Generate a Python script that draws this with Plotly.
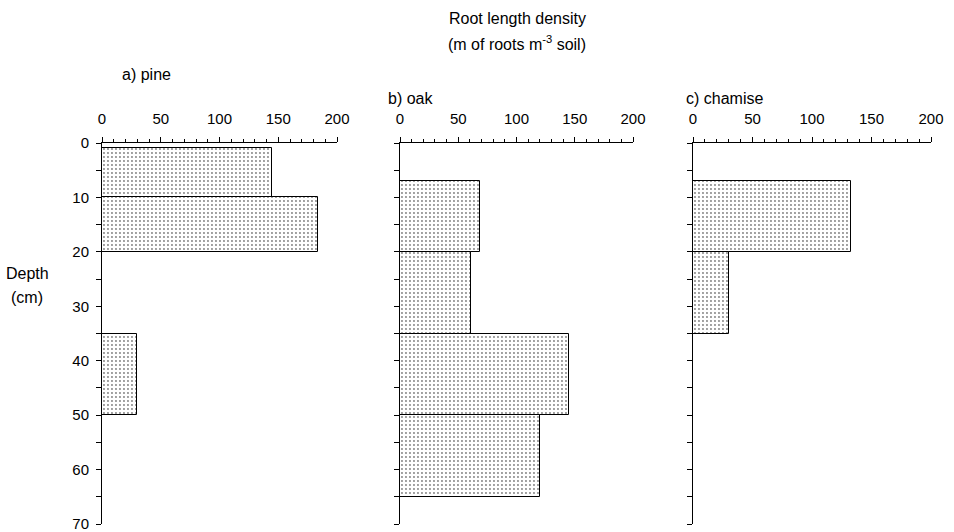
import plotly.graph_objects as go

# Data: depth intervals (cm) and root length density (m of roots m^-3 soil)
pine_top = [1, 10, 35]
pine_bottom = [10, 20, 50]
pine_rld = [145, 184, 30]

oak_top = [7, 20, 35, 50]
oak_bottom = [20, 35, 50, 65]
oak_rld = [69, 61, 145, 120]

chamise_top = [7, 20]
chamise_bottom = [20, 35]
chamise_rld = [133, 30]

panel_titles = ["a) pine", "b) oak", "c) chamise"]

W, H = 954, 532
fig = go.Figure()

panels = [
    (pine_top, pine_bottom, pine_rld),
    (oak_top, oak_bottom, oak_rld),
    (chamise_top, chamise_bottom, chamise_rld),
]
xdomains = [(102, 337), (400, 633), (693, 931)]
ytop, ybot = 143, 524
FONT = "Liberation Sans, Arial"

for i, (tops, bots, vals) in enumerate(panels):
    idx = "" if i == 0 else str(i + 1)
    centers = [(t + b) / 2 for t, b in zip(tops, bots)]
    widths = [b - t for t, b in zip(tops, bots)]
    fig.add_trace(go.Bar(
        x=vals, y=centers, width=widths, base=0, orientation="h",
        marker=dict(color="white",
                    line=dict(color="black", width=1),
                    pattern=dict(shape=".", fgcolor="black", bgcolor="white",
                                 size=4, solidity=0.18)),
        xaxis="x" + idx, yaxis="y" + idx, showlegend=False, hoverinfo="skip",
    ))
    d0, d1 = xdomains[i]
    fig.layout["xaxis" + idx] = dict(
        domain=[d0 / W, d1 / W], range=[0, 200], side="top", anchor="y" + idx,
        automargin=False, ticklabeloverflow="allow",
        showline=True, linecolor="black", linewidth=1, showgrid=False, zeroline=False,
        ticks="outside", ticklen=5, tickcolor="black", tickwidth=1,
        tick0=0, dtick=50, ticklabelstandoff=7,
        minor=dict(ticks="outside", dtick=10, ticklen=3, tickcolor="black", showgrid=False),
        tickfont=dict(family=FONT, size=15, color="black"),
        fixedrange=True,
    )
    fig.layout["yaxis" + idx] = dict(
        domain=[1 - ybot / H, 1 - ytop / H], range=[70, 0], anchor="x" + idx,
        automargin=False, ticklabeloverflow="allow",
        showline=True, linecolor="black", linewidth=1, showgrid=False, zeroline=False,
        ticks="outside", ticklen=5, tickcolor="black", tickwidth=1,
        tick0=0, dtick=10, showticklabels=(i == 0), ticklabelstandoff=4,
        minor=dict(ticks="outside", dtick=5, ticklen=5, tickcolor="black", showgrid=False),
        tickfont=dict(family=FONT, size=15, color="black"),
        fixedrange=True,
    )

def ann(text, x, y, xanchor="center", size=16):
    fig.add_annotation(text=text, x=x / W, y=1 - y / H, xref="paper", yref="paper",
                       showarrow=False, xanchor=xanchor, yanchor="middle",
                       font=dict(family=FONT, size=size, color="black"))

ann("Root length density", 517, 18)
ann("(m of roots m<sup>-3</sup> soil)", 517, 43)
ann(panel_titles[0], 120, 75, "left")
ann(panel_titles[1], 386, 99, "left")
ann(panel_titles[2], 684, 99, "left")
ann("Depth", 27, 273)
ann("(cm)", 27, 297)

fig.update_layout(
    width=W, height=H, margin=dict(l=0, r=0, t=0, b=0),
    paper_bgcolor="white", plot_bgcolor="white", bargap=0,
)
fig.write_html("out.html")
